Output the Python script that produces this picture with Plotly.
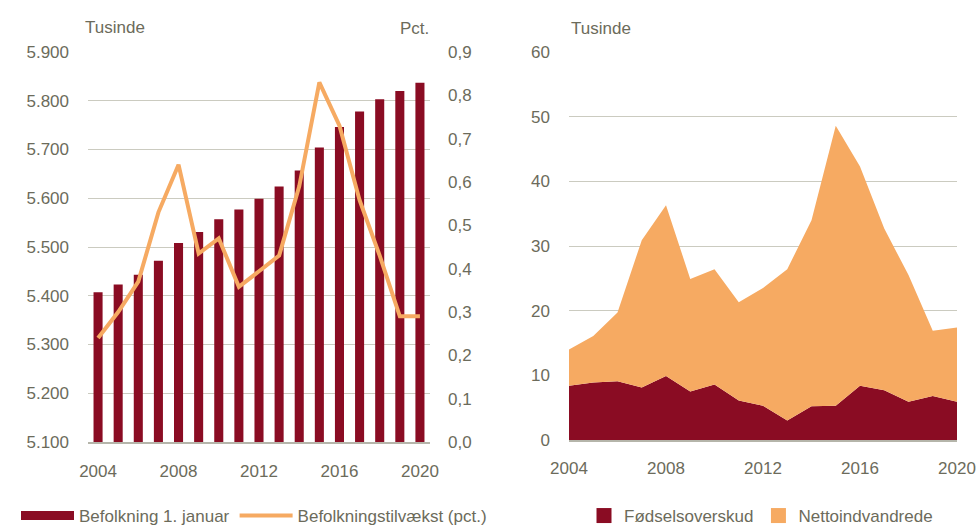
import plotly.graph_objects as go

years = list(range(2004, 2021))
befolkning = [5407, 5423, 5443, 5472, 5508, 5531, 5557, 5577, 5599, 5624,
              5657, 5704, 5746, 5778, 5803, 5820, 5837]
tilvaekst = [0.24, 0.30, 0.37, 0.53, 0.64, 0.435, 0.47, 0.358, 0.394, 0.43,
             0.59, 0.83, 0.73, 0.558, 0.43, 0.29, 0.29]
foedselsoverskud = [8.4, 8.9, 9.1, 8.1, 9.9, 7.5, 8.6, 6.1, 5.3, 3.0,
                    5.2, 5.3, 8.4, 7.7, 5.9, 6.8, 5.9]
nettoindvandrede = [5.6, 7.2, 10.6, 22.8, 26.4, 17.4, 17.8, 15.2, 18.2, 23.4,
                    28.8, 43.3, 33.9, 25.0, 19.6, 10.1, 11.5]
left_ticks = [5100, 5200, 5300, 5400, 5500, 5600, 5700, 5800, 5900]
pct_ticks = [0.0, 0.1, 0.2, 0.3, 0.4, 0.5, 0.6, 0.7, 0.8, 0.9]
right_ticks = [0, 10, 20, 30, 40, 50, 60]
x_ticks = [2004, 2008, 2012, 2016, 2020]

RED = "#8a0c23"
ORANGE = "#f6aa62"
TXT = "#6c6b5b"
GRID = "#cbcbc0"
FONT = "Liberation Sans, Arial, sans-serif"

W, H = 977, 526
def fx(px):
    return px / W
def fy(py):
    return 1 - py / H

fig = go.Figure()

fig.add_trace(go.Bar(x=years, y=befolkning, marker_color=RED, width=0.45,
                     marker_line_width=0, showlegend=False,
                     name="Befolkning 1. januar", xaxis="x", yaxis="y"))
fig.add_trace(go.Scatter(x=years, y=tilvaekst, mode="lines",
                         line=dict(color=ORANGE, width=4),
                         showlegend=False, name="Befolkningstilvækst (pct.)",
                         xaxis="x", yaxis="y2"))
# legend entries (left)
fig.add_trace(go.Scatter(x=[None], y=[None], mode="lines",
                         line=dict(color=RED, width=9),
                         name="Befolkning 1. januar", legend="legend",
                         xaxis="x", yaxis="y"))
fig.add_trace(go.Scatter(x=[None], y=[None], mode="lines",
                         line=dict(color=ORANGE, width=4),
                         name="Befolkningstilvækst (pct.)", legend="legend",
                         xaxis="x", yaxis="y"))

# right chart
fig.add_trace(go.Scatter(x=years, y=foedselsoverskud, mode="lines",
                         stackgroup="one", line=dict(width=0, color=RED),
                         fillcolor=RED, showlegend=False,
                         name="Fødselsoverskud", xaxis="x3", yaxis="y3"))
fig.add_trace(go.Scatter(x=years, y=nettoindvandrede, mode="lines",
                         stackgroup="one", line=dict(width=0, color=ORANGE),
                         fillcolor=ORANGE, showlegend=False,
                         name="Nettoindvandrede", xaxis="x3", yaxis="y3"))
fig.add_trace(go.Scatter(x=[None], y=[None], mode="markers",
                         marker=dict(symbol="square", size=15, color=RED),
                         name="Fødselsoverskud", legend="legend2",
                         xaxis="x3", yaxis="y3"))
fig.add_trace(go.Scatter(x=[None], y=[None], mode="markers",
                         marker=dict(symbol="square", size=15, color=ORANGE),
                         name="Nettoindvandrede", legend="legend2",
                         xaxis="x3", yaxis="y3"))

axfont = dict(family=FONT, size=17, color=TXT)

fig.update_layout(
    width=W, height=H,
    margin=dict(l=0, r=0, t=0, b=0, autoexpand=False),
    paper_bgcolor="white", plot_bgcolor="white",
    separators=",.",
    font=axfont,
    xaxis=dict(domain=[fx(88), fx(430)], range=[2003.5, 2020.5],
               tickvals=x_ticks, showgrid=False, zeroline=False,
               showline=True, linecolor="#b5b5aa", linewidth=1.5,
               ticks="", ticklabelstandoff=13, tickfont=axfont,
               automargin=False),
    yaxis=dict(domain=[fy(442), fy(52)], range=[5100, 5900],
               tickvals=left_ticks, tickformat=",d", showgrid=True,
               gridcolor=GRID, gridwidth=1, zeroline=False,
               ticks="", ticklabelstandoff=18, tickfont=axfont,
               automargin=False),
    yaxis2=dict(overlaying="y", side="right", anchor="x", range=[0, 0.9],
                tickvals=pct_ticks, tickformat=".1f", showgrid=False,
                zeroline=False, ticks="", ticklabelstandoff=17,
                tickfont=axfont, automargin=False),
    xaxis3=dict(domain=[fx(569), fx(957)], range=[2004, 2020],
                tickvals=x_ticks, showgrid=False, zeroline=False,
                showline=True, linecolor="#b5b5aa", linewidth=1.5,
                ticks="", ticklabelstandoff=12, tickfont=axfont,
                anchor="y3", automargin=False),
    yaxis3=dict(domain=[fy(440), fy(52)], range=[0, 60],
                tickvals=right_ticks, showgrid=True, gridcolor=GRID,
                gridwidth=1, zeroline=False, ticks="",
                ticklabelstandoff=18, tickfont=axfont, anchor="x3",
                automargin=False),
    legend=dict(orientation="h", x=fx(16), y=fy(516), xanchor="left",
                yanchor="middle", font=axfont, bgcolor="rgba(0,0,0,0)",
                itemwidth=53, traceorder="normal"),
    legend2=dict(orientation="h", x=fx(584), y=fy(516), xanchor="left",
                 yanchor="middle", font=axfont, bgcolor="rgba(0,0,0,0)",
                 itemwidth=30, traceorder="normal"),
    annotations=[
        dict(text="Tusinde", x=fx(83), y=fy(27), xref="paper", yref="paper",
             xanchor="left", yanchor="middle", showarrow=False, font=axfont),
        dict(text="Pct.", x=fx(431), y=fy(29), xref="paper", yref="paper",
             xanchor="right", yanchor="middle", showarrow=False, font=axfont),
        dict(text="Tusinde", x=fx(569), y=fy(29), xref="paper", yref="paper",
             xanchor="left", yanchor="middle", showarrow=False, font=axfont),
    ],
)

fig.write_html("out.html", config={"displayModeBar": False},
               post_script="document.body.style.margin='0px';"
                           "document.body.style.overflow='hidden';")
